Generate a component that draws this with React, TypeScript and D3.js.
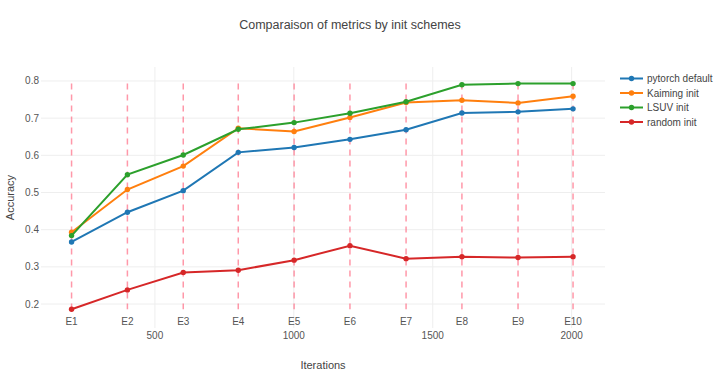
import React from "react";
import * as d3 from "d3";

const epochs = ["E1", "E2", "E3", "E4", "E5", "E6", "E7", "E8", "E9", "E10"];
const iterations = [200, 401, 602, 800, 1001, 1202, 1404, 1605, 1807, 2005];
const pytorchDefault = [0.367, 0.447, 0.505, 0.608, 0.621, 0.643, 0.669, 0.714, 0.717, 0.725];
const kaimingInit = [0.393, 0.508, 0.571, 0.673, 0.664, 0.702, 0.742, 0.748, 0.741, 0.759];
const lsuvInit = [0.384, 0.548, 0.601, 0.670, 0.688, 0.713, 0.744, 0.790, 0.793, 0.793];
const randomInit = [0.186, 0.238, 0.285, 0.291, 0.318, 0.357, 0.322, 0.327, 0.325, 0.327];
const xTicks = [500, 1000, 1500, 2000];
const yTicks = [0.2, 0.3, 0.4, 0.5, 0.6, 0.7, 0.8];
const seriesNames = ["pytorch default", "Kaiming init", "LSUV init", "random init"];
const seriesColors = ["#1f77b4", "#ff7f0e", "#2ca02c", "#d62728"];

const W = 720;
const H = 381;
const plot = { left: 41, right: 605, top: 67, bottom: 328 };
const FONT = "'Liberation Sans', Arial, sans-serif";

export default function App() {
  const series = [pytorchDefault, kaimingInit, lsuvInit, randomInit];
  const x = d3.scaleLinear().domain([90, 2120]).range([plot.left, plot.right]);
  const y = d3.scaleLinear().domain([0.1355, 0.8376]).range([plot.bottom, plot.top]);
  const all = series.flat();
  const [minV, maxV] = d3.extent(all) as [number, number];
  const line = d3
    .line<number>()
    .x((_, i) => x(iterations[i]))
    .y((d) => y(d));

  return (
    <div style={{ position: "absolute", left: 0, top: 0 }}>
      <svg width={W} height={H} style={{ display: "block", background: "#fff" }} fontFamily={FONT}>
        {/* gridlines */}
        {yTicks.map((t) => (
          <line key={"gy" + t} x1={plot.left} x2={plot.right} y1={y(t)} y2={y(t)} stroke="#eeeeee" strokeWidth={1} />
        ))}
        {xTicks.map((t) => (
          <line key={"gx" + t} x1={x(t)} x2={x(t)} y1={plot.top} y2={plot.bottom} stroke="#eeeeee" strokeWidth={1} />
        ))}
        {/* epoch dashed lines */}
        {iterations.map((it, i) => (
          <line
            key={"ep" + i}
            x1={x(it)}
            x2={x(it)}
            y1={y(maxV)}
            y2={y(minV)}
            stroke="#ff5470"
            strokeOpacity={0.6}
            strokeWidth={1.5}
            strokeDasharray="6,5"
          />
        ))}
        {/* series */}
        {series.map((s, si) => (
          <g key={"s" + si}>
            <path d={line(s) || ""} fill="none" stroke={seriesColors[si]} strokeWidth={2} />
            {s.map((v, i) => (
              <circle key={i} cx={x(iterations[i])} cy={y(v)} r={2.7} fill={seriesColors[si]} />
            ))}
          </g>
        ))}
        {/* epoch labels */}
        {epochs.map((e, i) => (
          <text key={"el" + i} x={x(iterations[i])} y={321} dy="0.35em" textAnchor="middle" fontSize={10} fill="#555">
            {e}
          </text>
        ))}
        {/* x tick labels */}
        {xTicks.map((t) => (
          <text key={"xt" + t} x={x(t)} y={335.5} dy="0.35em" textAnchor="middle" fontSize={10} fill="#555">
            {t}
          </text>
        ))}
        {/* y tick labels */}
        {yTicks.map((t) => (
          <text key={"yt" + t} x={39} y={y(t)} dy="0.35em" textAnchor="end" fontSize={10} fill="#555">
            {t.toFixed(1)}
          </text>
        ))}
        {/* axis titles */}
        <text x={(plot.left + plot.right) / 2} y={365} dy="0.35em" textAnchor="middle" fontSize={11} fill="#444">
          Iterations
        </text>
        <text
          transform={`translate(10,${(plot.top + plot.bottom) / 2}) rotate(-90)`}
          dy="0.35em"
          textAnchor="middle"
          fontSize={11}
          fill="#444"
        >
          Accuracy
        </text>
        {/* title */}
        <text x={350} y={25} dy="0.35em" textAnchor="middle" fontSize={12.5} fill="#444">
          Comparaison of metrics by init schemes
        </text>
        {/* legend */}
        {seriesNames.map((n, i) => {
          const ly = 78.5 + i * 14.5;
          return (
            <g key={"lg" + i}>
              <line x1={620} x2={643} y1={ly} y2={ly} stroke={seriesColors[i]} strokeWidth={2} />
              <circle cx={631.5} cy={ly} r={2.7} fill={seriesColors[i]} />
              <text x={647} y={ly} dy="0.35em" fontSize={10} fill="#444">
                {n}
              </text>
            </g>
          );
        })}
      </svg>
    </div>
  );
}
